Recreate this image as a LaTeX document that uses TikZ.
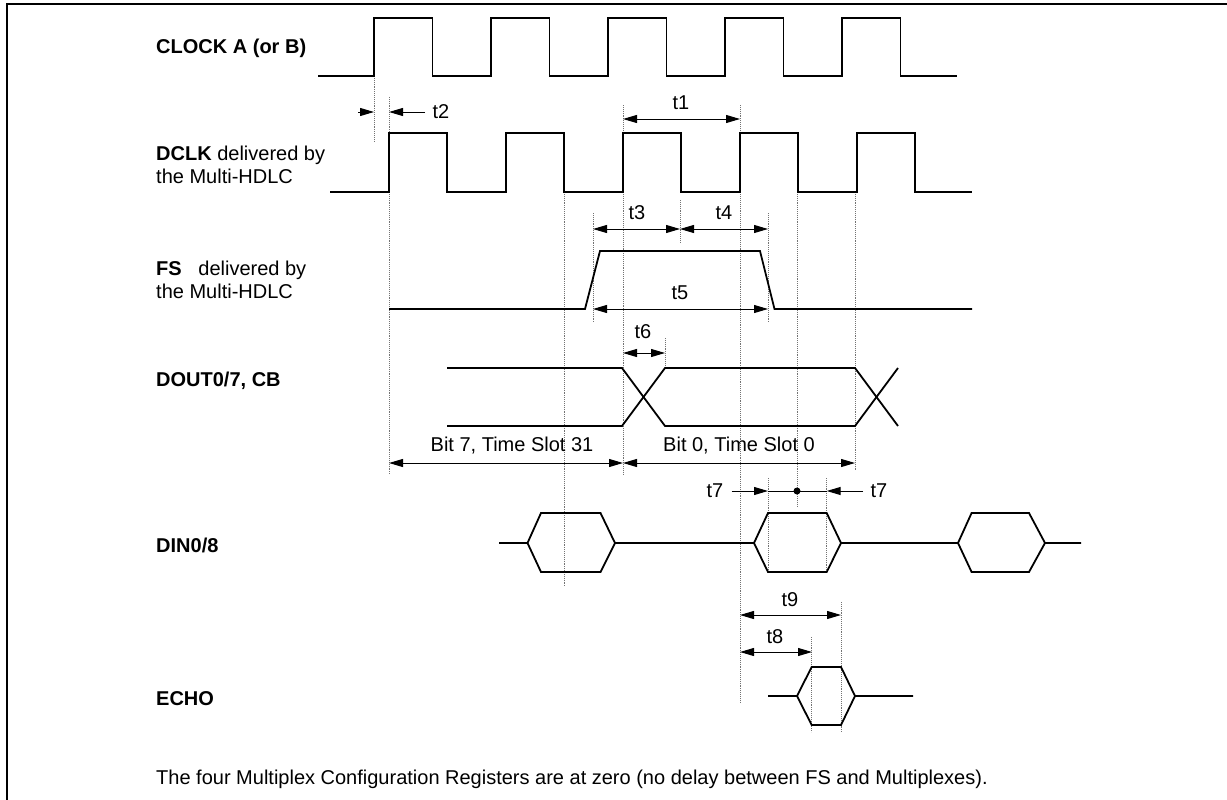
\documentclass[tikz,border=0pt]{standalone}
\usepackage{fontspec}
\setmainfont{Liberation Sans}
\usetikzlibrary{arrows.meta}
\tikzset{
  sig/.style={line width=1.8pt, line join=miter},
  guide/.style={line width=0.9pt, densely dotted, black!55},
  dimline/.style={line width=1pt, {Triangle[length=14pt,width=8pt]}-{Triangle[length=14pt,width=8pt]}},
  tipline/.style={line width=1pt, -{Triangle[length=14pt,width=8pt]}},
  lbl/.style={font=\fontsize{20}{23}\selectfont, inner sep=0pt},
  signame/.style={lbl, anchor=west, align=left},
}
\begin{document}
\begin{tikzpicture}[x=1pt,y=-1pt]
\useasboundingbox (0,0) rectangle (1227,800);
% frame
\draw[line width=2pt] (6.5,800) -- (6.5,4) -- (1227,4);

% signal names
\node[signame] (nclk) at (156,48) {\textbf{CLOCK A (or B)}};
\node[signame] (ndclk) at (156,165) {\textbf{DCLK} delivered by\\the Multi-HDLC};
\node[signame] (nfs) at (156,280) {\textbf{FS}\ \ \ delivered by\\the Multi-HDLC};
\node[signame] (ndout) at (156,381) {\textbf{DOUT0/7, CB}};
\node[signame] (ndin) at (156,545) {\textbf{DIN0/8}};
\node[signame] (necho) at (156,699) {\textbf{ECHO}};
\node[signame] (note) at (156,779) {The four Multiplex Configuration Registers are at zero (no delay between FS and Multiplexes).};

% guide lines
\draw[guide] (374,78) -- (374,142);
\draw[guide] (389,97) -- (389,475);
\draw[guide] (564,192) -- (564,586);
\draw[guide] (623,105) -- (623,475);
\draw[guide] (740,105) -- (740,702);
\draw[guide] (593,213) -- (593,323);
\draw[guide] (680,200) -- (680,242);
\draw[guide] (768,213) -- (768,323);
\draw[guide] (797,192) -- (797,506);
\draw[guide] (855,192) -- (855,470);
\draw[guide] (665,338) -- (665,368);
\draw[guide] (768,478) -- (768,572);
\draw[guide] (826.7,478) -- (826.7,572);
\draw[guide] (841,602) -- (841,732);
\draw[guide] (811.7,637) -- (811.7,732);

% CLOCK A
\draw[sig] (318,76) \foreach \k in {0,...,4}{ -- ({374+117*\k},76) -- ({374+117*\k},18) -- ({432.5+117*\k},18) -- ({432.5+117*\k},76)} -- (957,76);
% DCLK
\draw[sig] (330,192) \foreach \k in {0,...,4}{ -- ({389+117*\k},192) -- ({389+117*\k},133) -- ({447+117*\k},133) -- ({447+117*\k},192)} -- (972,192);
% FS
\draw[sig] (389,309) -- (585,309) -- (600,251) -- (760,251) -- (774.5,309) -- (972,309);
% DOUT
\draw[sig] (447,368) -- (622,368) -- (665,426) -- (855,426) -- (898,368);
\draw[sig] (447,426) -- (622,426) -- (665,368) -- (855,368) -- (898,426);
% DIN
\draw[sig] (499,543) -- (527.5,543) -- (541,513) -- (600.5,513) -- (615,543) -- (754,543) -- (768,513) -- (826.7,513) -- (841,543) -- (958,543) -- (971.6,513) -- (1029,513) -- (1045,543) -- (1081,543);
\draw[sig] (527.5,543) -- (541,572) -- (600.5,572) -- (615,543);
\draw[sig] (754,543) -- (768,572) -- (826.7,572) -- (841,543);
\draw[sig] (958,543) -- (971.6,572) -- (1029,572) -- (1045,543);
% ECHO
\draw[sig] (768,696) -- (797,696) -- (811.7,667) -- (841,667) -- (855,696) -- (913,696);
\draw[sig] (797,696) -- (811.7,725) -- (841,725) -- (855,696);

% t2
\draw[tipline] (358,112) -- (374,112);
\draw[tipline] (425,112) -- (389,112);
\node[lbl] (t2) at (441,112) {t2};
% t1
\draw[dimline] (623,119) -- (740,119);
\node[lbl] (t1) at (681,103) {t1};
% t3 t4 t5
\draw[dimline] (593,229) -- (680,229);
\node[lbl] (t3) at (637,213) {t3};
\draw[dimline] (680,229) -- (768,229);
\node[lbl] (t4) at (724,213) {t4};
\draw[dimline] (593,309) -- (768,309);
\node[lbl] (t5) at (680,293) {t5};
% t6
\draw[dimline] (623,353) -- (665,353);
\node[lbl] (t6) at (643,332) {t6};
% bits
\draw[dimline] (389,463) -- (623,463);
\node[lbl] (b7) at (512,446) {Bit 7, Time Slot 31};
\draw[dimline] (623,463) -- (855,463);
\node[lbl] (b0) at (739,446) {Bit 0, Time Slot 0};
% t7
\draw[tipline] (731.7,491) -- (768,491);
\draw[line width=1pt] (768,491) -- (826.7,491);
\draw[tipline] (863,491) -- (826.7,491);
\fill (797,491) circle (3.5);
\node[lbl] (t7a) at (715,491) {t7};
\node[lbl] (t7b) at (879,491) {t7};
% t9 t8
\draw[dimline] (740,615) -- (841,615);
\node[lbl] (t9) at (790,600) {t9};
\draw[dimline] (740,652) -- (812,652);
\node[lbl] (t8) at (775,637) {t8};
\end{tikzpicture}
\end{document}
